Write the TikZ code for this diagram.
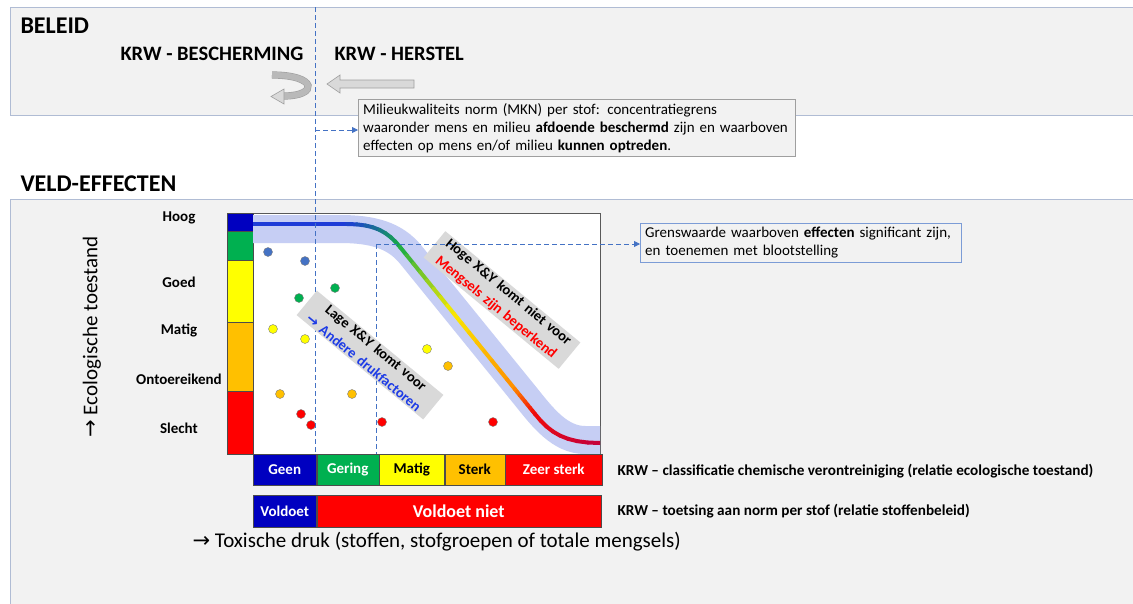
\documentclass[tikz,border=0pt]{standalone}
\usepackage{fontspec}
\setmainfont{Carlito}
\newfontfamily\arrowfont{DejaVu Sans}
\usepackage{tikz}
\usetikzlibrary{arrows.meta,positioning}
\definecolor{panelgray}{RGB}{242,242,242}
\definecolor{panelline}{RGB}{176,188,212}
\definecolor{guideblue}{RGB}{68,114,196}
\definecolor{barblue}{RGB}{0,0,192}
\definecolor{bargreen}{RGB}{0,176,80}
\definecolor{baryellow}{RGB}{255,255,0}
\definecolor{barorange}{RGB}{255,192,0}
\definecolor{barred}{RGB}{255,0,0}
\definecolor{dotblue}{RGB}{68,114,196}
\definecolor{bandblue}{RGB}{198,206,244}
\definecolor{lineblue}{RGB}{30,60,215}
\definecolor{linegreen}{RGB}{20,170,70}
\definecolor{lineyellow}{RGB}{250,235,0}
\definecolor{lineorange}{RGB}{255,140,0}
\definecolor{linered}{RGB}{240,10,10}
\definecolor{linecrimson}{RGB}{195,0,60}
\definecolor{textblue}{RGB}{30,60,230}
\definecolor{tiltgray}{RGB}{217,217,217}
\tikzset{
    panel/.style = {draw=panelline, fill=panelgray, line width=0.8pt},
    head-text/.style = {anchor=west, font=\fontsize{24}{28}\selectfont\bfseries},
    krw-text/.style = {font=\fontsize{20.5}{24}\selectfont\bfseries},
    note-box/.style = {draw=gray!75, fill=panelgray, align=left, anchor=north west, inner xsep=5pt, inner ysep=4pt, font=\fontsize{15}{18}\selectfont},
    guide-line/.style = {guideblue, line width=0.8pt, dash pattern=on 5pt off 3pt},
    guide-arrow/.style = {guide-line, -{Triangle[length=6pt,width=6pt]}},
    state-label/.style = {font=\fontsize{15}{17}\selectfont\bfseries},
    scale-cell/.style = {draw=gray!60!black, line width=0.5pt, minimum height=31, anchor=north west, inner sep=0pt, font=\fontsize{15}{17}\selectfont\bfseries},
    dot/.style = {draw=gray, line width=0.4pt},
    tilt-box/.style = {fill=tiltgray, rotate=-39.5, align=center, inner xsep=5pt, inner ysep=1pt, font=\fontsize{14.5}{19.5}\selectfont\bfseries},
    legend-text/.style = {anchor=west, font=\fontsize{15.2}{17}\selectfont\bfseries},
    axis-text/.style = {font=\fontsize{21}{24}\selectfont},
}
\newcommand{\gradpiece}[5]{%
  \foreach \k in {0,...,7}{%
    \pgfmathsetmacro{\gsa}{#2+(#3-#2)*\k/8}%
    \pgfmathsetmacro{\gsb}{#2+(#3-#2)*(\k+1)/8}%
    \pgfmathtruncatemacro{\gmix}{100-(\k+0.5)*12.5}%
    \path #1 coordinate[pos=\gsa] (ga) coordinate[pos=\gsb] (gb);
    \draw[line width=4pt, line cap=round, #4!\gmix!#5] (ga) -- (gb);
  }}
\begin{document}
\begin{tikzpicture}[x=1pt,y=-1pt]
\useasboundingbox (0,0) rectangle (1133,603);
\fill[white] (0,0) rectangle (1133,603);
\draw[panel] (10,7) rectangle (1145,115);
\draw[panel] (10,199) rectangle (1145,615);
\node[head-text] (beleid) at (17,26) {BELEID};
\node[head-text] (veld) at (17,184) {VELD-EFFECTEN};
\node[krw-text] (bescherming) at (212,54) {KRW - BESCHERMING};
\node[krw-text, anchor=west] (herstel) at (331,54) {KRW - HERSTEL};

\draw[draw=gray!75, double=gray!55, double distance=6pt, line width=0.6pt] (272,75) .. controls (318,75) and (318,96) .. (284,96);
\filldraw[draw=gray!75, fill=gray!30, line width=0.6pt] (284,89) -- (271,96.5) -- (284,104) -- cycle;
\filldraw[draw=gray!75, fill=gray!30, line width=0.6pt] (414,80) -- (340,80) -- (340,75) -- (327,84) -- (340,93) -- (340,88) -- (414,88) -- cycle;

\filldraw[fill=white, draw=gray!70!black, line width=0.6pt] (253,213) rectangle (600,454);
\foreach \ya/\yb/\c in {213/231/barblue, 231/260/bargreen, 260/322/baryellow, 322/391/barorange, 391/454/barred}
    \filldraw[fill=\c, draw=gray!60!black, line width=0.5pt] (227,\ya) rectangle (253,\yb);
\begin{scope}
\clip (253,213) rectangle (600,454);
\draw[bandblue, line width=28pt] (253,229) -- (340,229) .. controls (372,229) and (395,235) .. (411,255)
    -- (526.5,397.3) .. controls (542.5,417.3) and (560,440) .. (585,440) -- (600,440);
\draw[lineblue, line width=4pt] (253,224) -- (347,224);
\gradpiece{(347,224) .. controls (375,224) and (388,232) .. (400,247)}{0}{1}{lineblue}{linegreen}
\gradpiece{(400,247) -- (535,414)}{0}{0.4}{linegreen}{lineyellow}
\gradpiece{(400,247) -- (535,414)}{0.4}{0.85}{lineyellow}{lineorange}
\gradpiece{(400,247) -- (535,414)}{0.85}{1}{lineorange}{linered}
\gradpiece{(535,414) .. controls (550,433) and (565,443) .. (600,443)}{0}{1}{linered}{linecrimson}
\end{scope}
\foreach \px/\py/\c in {268/252/dotblue, 305/261/dotblue, 335/288/bargreen, 299/298/bargreen,
    273/329/baryellow, 305/339/baryellow, 427/349/baryellow, 448/366/barorange, 280/394/barorange,
    352/394/barorange, 301/414/barred, 311/425/barred, 382/422/barred, 493/422/barred}
    \filldraw[dot, fill=\c] (\px,\py) circle (4.5pt);

\coordinate (mkn-top) at (315,7);
\coordinate (mkn-bot) at (315,454);
\coordinate (mkn-tap) at (315,130);
\coordinate (grens-tap) at (376,244);
\coordinate (grens-bot) at (376,454);
\draw[guide-line] (mkn-top) -- (mkn-bot);
\draw[guide-line] (grens-tap) -- (grens-bot);

\node[tilt-box, text width=154pt] (lage) at (370,355) {Lage X\&Y komt voor\\ \textcolor{textblue}{{\arrowfont\bfseries →} Andere drukfactoren}};
\node[tilt-box, text width=165pt] (hoge) at (502,300) {Hoge X\&Y komt niet voor\\ \textcolor{barred}{Mengsels zijn beperkend}};

\node[note-box, text width=427pt] (mkn) at (358,99) {Milieukwaliteits norm (MKN) per stof: concentratiegrens\\ waaronder mens en milieu \textbf{afdoende beschermd} zijn en waarboven\\ effecten op mens en/of milieu \textbf{kunnen optreden}.};
\node[note-box, draw=guideblue!70, text width=311pt] (grens) at (640,223) {Grenswaarde waarboven \textbf{effecten} significant zijn,\\ en toenemen met blootstelling};
\draw[guide-arrow] (mkn-tap) -- (mkn-tap -| mkn.west);
\draw[guide-arrow] (grens-tap) -- (grens-tap -| grens.west);

\foreach \nm/\yy in {Hoog/218, Goed/282, Matig/330, Ontoereikend/379, Slecht/428}
    \node[state-label] (lbl-\nm) at (179,\yy) {\nm};
\node[axis-text, rotate=90] (eco-axis) at (92,337) {{\arrowfont →} Ecologische toestand};

\node[scale-cell, fill=barblue, text=white, minimum width=63] (geen) at (253,454) {Geen};
\node[scale-cell, fill=bargreen, text=white, minimum width=62, right=0pt of geen] (gering) {Gering};
\node[scale-cell, fill=baryellow, minimum width=65, right=0pt of gering] (matig) {Matig};
\node[scale-cell, fill=barorange, minimum width=60, right=0pt of matig] (sterk) {Sterk};
\node[scale-cell, fill=barred, text=white, minimum width=97, right=0pt of sterk] (zeersterk) {Zeer sterk};
\node[scale-cell, fill=barblue, text=white, minimum width=63, minimum height=32] (voldoet) at (253,495) {Voldoet};
\node[scale-cell, fill=barred, text=white, minimum width=284, minimum height=32, right=0pt of voldoet, font=\fontsize{18}{20}\selectfont\bfseries] (voldoetniet) {Voldoet niet};

\node[legend-text] (krw-klasse) at (614,471) {KRW – classificatie chemische verontreiniging (relatie ecologische toestand)};
\node[legend-text] (krw-toets) at (614,511) {KRW – toetsing aan norm per stof (relatie stoffenbeleid)};
\node[axis-text, anchor=west] (tox-axis) at (189,542) {{\arrowfont →} Toxische druk (stoffen, stofgroepen of totale mengsels)};
\end{tikzpicture}
\end{document}
